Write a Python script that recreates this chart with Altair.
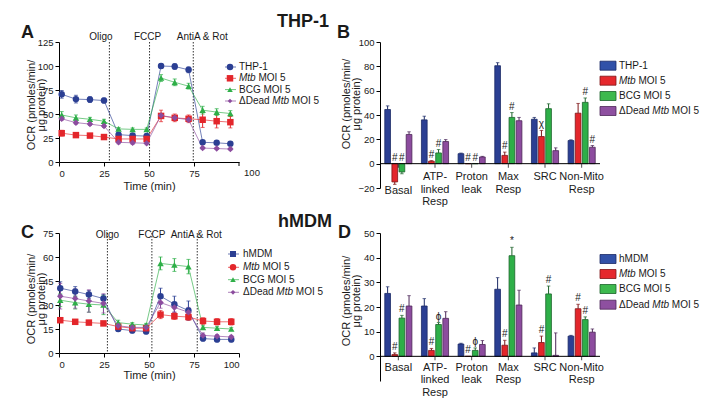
import altair as alt
import pandas as pd

# ---------------- data ----------------
series_thp = ["THP-1", "Mtb MOI 5", "BCG MOI 5", "ΔDead Mtb MOI 5"]
series_hmdm = ["hMDM", "Mtb MOI 5", "BCG MOI 5", "ΔDead Mtb MOI 5"]
inj_labels = ["Oligo", "FCCP", "AntiA & Rot"]

# Panel A (THP-1 kinetics)
time_A = [1.5, 9.4, 17.2, 25.0, 33.1, 40.9, 48.7, 56.7, 64.3, 72.0, 79.8, 87.6, 95.2]
ocr_A_thp1 = [70.5, 65.5, 65.0, 64.0, 28.5, 27.5, 27.0, 100.0, 99.5, 96.0, 20.5, 20.0, 19.0]
err_A_thp1 = [4.0, 4.0, 3.0, 2.5, 2.5, 2.0, 2.0, 2.5, 3.0, 3.0, 1.5, 1.5, 1.5]
ocr_A_mtb = [30.0, 28.0, 27.5, 26.0, 24.0, 24.0, 24.0, 48.0, 46.0, 45.0, 44.0, 42.5, 41.5]
err_A_mtb = [3.0, 1.5, 1.5, 1.5, 3.0, 3.0, 3.0, 6.0, 4.0, 4.0, 8.0, 7.0, 6.0]
ocr_A_bcg = [49.0, 46.0, 44.5, 42.5, 34.5, 34.0, 34.0, 87.5, 83.0, 79.0, 54.0, 52.0, 50.5]
err_A_bcg = [3.5, 3.0, 2.0, 2.0, 1.5, 1.5, 1.5, 3.5, 3.5, 3.0, 4.0, 3.5, 3.0]
ocr_A_dead = [45.0, 41.0, 39.5, 37.5, 20.5, 20.0, 19.5, 48.5, 46.0, 44.0, 14.5, 14.0, 13.5]
err_A_dead = [1.5, 1.5, 1.5, 1.5, 1.5, 1.5, 1.5, 2.0, 2.0, 2.0, 1.0, 1.0, 1.0]
inj_A = [28.0, 50.3, 74.6]

# Panel C (hMDM kinetics)
time_C = [0.7, 9.0, 16.6, 24.7, 32.9, 40.7, 48.4, 56.4, 64.1, 71.9, 80.0, 87.8, 95.7]
ocr_C_hmdm = [40.5, 38.5, 36.5, 34.0, 15.0, 14.0, 13.5, 35.5, 30.5, 26.5, 9.0, 8.5, 8.5]
err_C_hmdm = [4.0, 3.0, 2.5, 2.5, 1.5, 1.5, 1.5, 5.0, 5.0, 6.0, 1.5, 1.5, 1.5]
ocr_C_mtb = [20.5, 19.5, 19.0, 18.5, 16.5, 15.5, 15.5, 24.0, 23.0, 22.5, 20.0, 19.5, 19.5]
err_C_mtb = [1.5, 1.0, 1.0, 1.0, 1.0, 1.0, 1.0, 2.5, 2.0, 2.0, 2.0, 2.0, 2.0]
ocr_C_bcg = [33.0, 31.5, 30.5, 30.0, 19.0, 18.0, 17.5, 56.0, 55.0, 54.0, 16.0, 15.5, 15.0]
err_C_bcg = [4.0, 4.0, 5.0, 6.0, 1.5, 1.0, 1.0, 4.0, 4.0, 4.5, 1.0, 1.0, 1.0]
ocr_C_dead = [35.5, 34.0, 32.5, 31.0, 17.0, 16.0, 16.0, 31.5, 28.5, 25.5, 11.0, 10.5, 10.0]
err_C_dead = [8.0, 6.0, 7.0, 6.0, 1.5, 1.5, 1.5, 3.5, 3.0, 3.0, 1.5, 1.0, 1.0]
inj_C = [26.9, 51.6, 76.8]

# Bar panels
cats = ["Basal", "ATP-linked Resp", "Proton leak", "Max Resp", "SRC", "Non-Mito Resp"]
cat_text = ["Basal", "ATP-\nlinked\nResp", "Proton\nleak", "Max\nResp", "SRC", "Non-Mito\nResp"]

bar_B_thp1 = [44.5, 36.0, 8.2, 80.5, 36.5, 19.0]
berr_B_thp1 = [3.0, 3.0, 0.5, 2.5, 1.5, 0.6]
bar_B_mtb = [-15.0, 2.0, 0.0, 6.8, 22.3, 41.5]
berr_B_mtb = [2.0, 0.5, 0.0, 2.7, 5.0, 8.0]
bar_B_bcg = [-6.8, 8.8, 0.0, 38.0, 45.2, 50.4]
berr_B_bcg = [1.5, 2.8, 0.0, 4.0, 4.0, 3.6]
bar_B_dead = [24.0, 18.2, 5.5, 35.3, 10.7, 13.5]
berr_B_dead = [2.2, 1.6, 0.5, 2.7, 2.3, 1.4]
ann_B_thp1 = ["", "", "", "", "", ""]
ann_B_mtb = ["#", "#", "#", "#", "χ", ""]
ann_B_bcg = ["#", "#", "#", "#", "", "#"]
ann_B_dead = ["", "", "", "", "", "#"]

bar_D_hmdm = [25.5, 20.4, 5.0, 27.2, 1.4, 8.2]
berr_D_hmdm = [2.7, 3.0, 0.3, 4.7, 2.0, 0.3]
bar_D_mtb = [0.7, 2.4, 0.0, 4.5, 5.6, 19.3]
berr_D_mtb = [0.7, 0.8, 0.0, 2.0, 2.6, 1.8]
bar_D_bcg = [15.5, 12.9, 2.4, 40.8, 25.3, 14.9]
berr_D_bcg = [1.1, 0.8, 1.0, 3.4, 3.2, 1.1]
bar_D_dead = [20.4, 15.4, 4.8, 20.8, 0.4, 9.8]
berr_D_dead = [4.2, 2.7, 1.6, 6.0, 9.1, 1.3]
ann_D_hmdm = ["", "", "", "", "", ""]
ann_D_mtb = ["#", "#", "#", "#", "#", "#"]
ann_D_bcg = ["#", "ϕ", "ϕ", "*", "#", "#"]
ann_D_dead = ["", "", "", "", "", ""]

# ---------------- style ----------------
FONT = "Liberation Sans"
INK = "#1a1a1a"
line_colors = ["#2B3F93", "#E3262B", "#2EAF48", "#8C4C9E"]
bar_fills = ["#3151A8", "#E5282C", "#3DB94E", "#8E50A0"]
bar_strokes = ["#1B2A66", "#7E1517", "#1C632B", "#4C2758"]
shapes_A = ["circle", "square", "triangle-up", "diamond"]
sizes_A = [42, 42, 30, 20]
shapes_C = ["square", "circle", "triangle-up", "diamond"]
sizes_C = [36, 42, 30, 22]
KEYS = [0, 1, 2, 3]

ONE = pd.DataFrame({"k": [0]})

CW = {"T": .611, "H": .722, "P": .667, "-": .333, "1": .556, "M": .833, "t": .278,
      "b": .556, " ": .278, "O": .778, "I": .278, "5": .556, "B": .667, "C": .722,
      "G": .778, "Δ": .668, "D": .722, "e": .556, "a": .556, "d": .556, "h": .556}


def tw(s, size):
    return sum(CW.get(c, 0.556) for c in s) * size


def txt(s, x, y, size=10, italic=False, bold=False, align="left", baseline="middle",
        angle=None, lh=None):
    kw = dict(fontSize=size, align=align, baseline=baseline, color=INK, font=FONT)
    if italic:
        kw["fontStyle"] = "italic"
    if bold:
        kw["fontWeight"] = "bold"
    if angle is not None:
        kw["angle"] = angle
    if lh is not None:
        kw["lineBreak"] = "\n"
        kw["lineHeight"] = lh
    return alt.Chart(ONE).mark_text(**kw).encode(
        x=alt.value(x), y=alt.value(y), text=alt.value(s))


def rich_label(name, x, y, size=10):
    out = []
    cx = x
    for w in name.split(" "):
        out.append(txt(w, cx, y, size, italic=(w == "Mtb")))
        cx += tw(w, size) + tw(" ", size)
    return out


YTITLE = "OCR (pmoles/min/\nμg protein)"


def line_panel(letter, lpos, times, names, vals, errs, shapes, sizes, ymax, yticks,
               inj_t, inj_dx, inj_y, leg, ytitle_pos, xtitle_pad, shift_last=False,
               W=180, H=120):
    rows = []
    for key, vs, es in zip(KEYS, vals, errs):
        for t, v, e in zip(times, vs, es):
            rows.append({"key": key, "time": t, "ocr": v, "lo": v - e, "hi": v + e})
    df = pd.DataFrame(rows)
    xs = alt.Scale(domain=[0, 100], nice=False)
    ys = alt.Scale(domain=[0, ymax], nice=False)
    xvals = [0, 25, 50, 75] if shift_last else [0, 25, 50, 75, 100]
    xax = alt.Axis(values=xvals, title="Time (min)", titleFontSize=11,
                   titlePadding=xtitle_pad)
    yax = alt.Axis(values=yticks)

    def X(f):
        return alt.X(f"{f}:Q", scale=xs, axis=xax)

    def Y(f):
        return alt.Y(f"{f}:Q", scale=ys, axis=yax, title=None)

    C = alt.Color("key:N", scale=alt.Scale(domain=KEYS, range=line_colors), legend=None)
    base = alt.Chart(df)
    vlines = alt.Chart(pd.DataFrame({"time": inj_t})).mark_rule(
        strokeDash=[1.5, 1.5], strokeWidth=1, color="#333").encode(x=X("time"))
    line = base.mark_line(strokeWidth=1, opacity=0.65).encode(x=X("time"), y=Y("ocr"), color=C)
    err = base.mark_rule(strokeWidth=1).encode(x=X("time"), y=Y("lo"), y2="hi:Q", color=C)
    capl = base.mark_tick(orient="horizontal", size=4, thickness=1).encode(
        x=X("time"), y=Y("lo"), color=C)
    caph = base.mark_tick(orient="horizontal", size=4, thickness=1).encode(
        x=X("time"), y=Y("hi"), color=C)
    pts = base.mark_point(filled=True, opacity=1).encode(
        x=X("time"), y=Y("ocr"), color=C,
        shape=alt.Shape("key:N", scale=alt.Scale(domain=KEYS, range=shapes), legend=None),
        size=alt.Size("key:N", scale=alt.Scale(domain=KEYS, range=sizes), legend=None))
    labels = []
    for lab, t, dx in zip(inj_labels, inj_t, inj_dx):
        labels.append(alt.Chart(pd.DataFrame({"time": [t]})).mark_text(
            dx=dx, fontSize=10, align="center", baseline="alphabetic", color=INK, font=FONT
        ).encode(x=X("time"), y=alt.value(inj_y), text=alt.value(lab)))
    if shift_last:
        end_df = pd.DataFrame({"time": [100]})
        labels.append(alt.Chart(end_df).mark_rule(strokeWidth=1, color="#000").encode(
            x=X("time"), y=alt.value(H), y2=alt.value(H + 4)))
        labels.append(txt("100", W + 13, H + 6, size=9.5, align="center", baseline="top"))
    legend = []
    lx_sym, lx1, lx2, lx_txt, lrows = leg
    for i, n in enumerate(names):
        yy = lrows[i]
        legend.append(alt.Chart(ONE).mark_rule(strokeWidth=1, color=line_colors[i], opacity=0.7).encode(
            x=alt.value(lx1), x2=alt.value(lx2), y=alt.value(yy)))
        legend.append(alt.Chart(ONE).mark_point(filled=True, opacity=1, shape=shapes[i],
                                                size=sizes[i], color=line_colors[i]).encode(
            x=alt.value(lx_sym), y=alt.value(yy)))
        legend.extend(rich_label(n, lx_txt, yy))
    extras = [txt(letter, lpos[0], lpos[1], size=18, bold=True, baseline="alphabetic"),
              txt(YTITLE, ytitle_pos[0], ytitle_pos[1], size=11, angle=270, align="center",
                  lh=10)]
    return alt.layer(vlines, line, err, capl, caph, pts, *labels, *legend, *extras).properties(
        width=W, height=H)


def bar_panel(letter, lpos, title, tpos, names, vals, errs, anns, ydom, yticks, H,
              label_dy, leg_rows, ytitle_pos, W=220):
    rows = []
    for key, vs, es, an in zip(KEYS, vals, errs, anns):
        for c, v, e, a in zip(cats, vs, es, an):
            end = v - e if v < 0 else v + e
            rows.append(dict(cat=c, key=key, value=v, end=end, err=e,
                             top=max(v, end, 0), ann=a))
    df = pd.DataFrame(rows)
    X = alt.X("cat:N", scale=alt.Scale(domain=cats, paddingInner=0.26, paddingOuter=0.13),
              axis=None, title=None)
    XO = alt.XOffset("key:N", scale=alt.Scale(domain=KEYS, paddingInner=0.2))
    ys = alt.Scale(domain=ydom, nice=False)
    yax = alt.Axis(values=yticks, labelOverlap=False)

    def Y(f):
        return alt.Y(f"{f}:Q", scale=ys, axis=yax, title=None)

    F = alt.Color("key:N", scale=alt.Scale(domain=KEYS, range=bar_fills), legend=None)
    S = alt.Stroke("key:N", scale=alt.Scale(domain=KEYS, range=bar_strokes), legend=None)
    FD = alt.Fill("key:N", scale=alt.Scale(domain=KEYS, range=bar_strokes), legend=None)
    base = alt.Chart(df)
    bars = base.mark_bar(strokeWidth=0.8).encode(
        x=X, xOffset=XO, y=Y("value"), y2=alt.datum(0), color=F, stroke=S)
    ebase = base.transform_filter("datum.err > 0")
    err = ebase.mark_rule(strokeWidth=1).encode(x=X, xOffset=XO, y=Y("value"), y2="end:Q", stroke=S)
    cap = ebase.mark_tick(orient="horizontal", size=3.5, thickness=1).encode(
        x=X, xOffset=XO, y=Y("end"), fill=FD)
    ann = base.transform_filter("datum.ann != ''").mark_text(
        baseline="bottom", dy=-1, fontSize=10, color=INK, font=FONT).encode(
        x=X, xOffset=XO, y=Y("top"), text="ann:N")
    zero = alt.Chart(ONE).mark_rule(color="black", strokeWidth=1).encode(y=Y("v0"))
    zero = zero.transform_calculate(v0="0")
    cticks = alt.Chart(pd.DataFrame({"cat": cats, "v0": [0] * len(cats)})).mark_tick(
        orient="vertical", size=4, thickness=1, yOffset=2, color="black").encode(
        x=X, y=Y("v0"))
    zero_px = H * ydom[1] / (ydom[1] - ydom[0])
    labels = []
    for c, lab in zip(cats, cat_text):
        labels.append(alt.Chart(pd.DataFrame({"cat": [c]})).mark_text(
            fontSize=11, lineBreak="\n", lineHeight=12.5, align="center",
            baseline="alphabetic", color=INK, font=FONT).encode(
            x=X, y=alt.value(zero_px + label_dy.get(c, label_dy["_"])), text=alt.value(lab)))
    legend = []
    for i, n in enumerate(names):
        yy = leg_rows[i]
        legend.append(alt.Chart(ONE).mark_rect(fill=bar_fills[i], stroke=bar_strokes[i],
                                               strokeWidth=0.8).encode(
            x=alt.value(W), x2=alt.value(W + 16), y=alt.value(yy - 4.5), y2=alt.value(yy + 4.5)))
        legend.extend(rich_label(n, W + 19, yy))
    extras = [txt(letter, lpos[0], lpos[1], size=18, bold=True, baseline="alphabetic"),
              txt(title, tpos[0], tpos[1], size=18, bold=True, align="center",
                  baseline="alphabetic"),
              txt(YTITLE, ytitle_pos[0], ytitle_pos[1], size=11, angle=270, align="center",
                  lh=10)]
    return alt.layer(bars, err, cap, zero, cticks, ann, *labels, *legend, *extras).properties(
        width=W, height=H)


pA = line_panel("A", (-38, -4), time_A, series_thp,
                [ocr_A_thp1, ocr_A_mtb, ocr_A_bcg, ocr_A_dead],
                [err_A_thp1, err_A_mtb, err_A_bcg, err_A_dead],
                shapes_A, sizes_A, 125, [0, 25, 50, 75, 100, 125],
                inj_A, [-8.5, -2, 9], -2,
                (171, 166, 177, 180, [25, 36.3, 47.6, 59]), (-27, 63), 3, shift_last=True)
pC = line_panel("C", (-38, 5), time_C, series_hmdm,
                [ocr_C_hmdm, ocr_C_mtb, ocr_C_bcg, ocr_C_dead],
                [err_C_hmdm, err_C_mtb, err_C_bcg, err_C_dead],
                shapes_C, sizes_C, 75, [0, 15, 30, 45, 60, 75],
                inj_C, [0, 0, -1], 5,
                (174, 169, 180, 184, [21, 34.3, 46.7, 59.3]), (-27, 66), 1)
pB = bar_panel("B", (-43, -4), "THP-1", (-77, -15), series_thp,
               [bar_B_thp1, bar_B_mtb, bar_B_bcg, bar_B_dead],
               [berr_B_thp1, berr_B_mtb, berr_B_bcg, berr_B_dead],
               [ann_B_thp1, ann_B_mtb, ann_B_bcg, ann_B_dead],
               [-20, 100], [-20, 0, 20, 40, 60, 80, 100], 146,
               {"Basal": 30.5, "_": 16.5}, [23.7, 38.7, 54, 69], (-33, 62))
pD = bar_panel("D", (-42, 5), "hMDM", (-75, -6), series_hmdm,
               [bar_D_hmdm, bar_D_mtb, bar_D_bcg, bar_D_dead],
               [berr_D_hmdm, berr_D_mtb, berr_D_bcg, berr_D_dead],
               [ann_D_hmdm, ann_D_mtb, ann_D_bcg, ann_D_dead],
               [-10, 50], [0, 10, 20, 30, 40, 50], 148,
               {"_": 14.5}, [26, 41, 56, 71.7], (-33, 68))

chart = alt.concat(pA, pB, pC, pD, columns=2, spacing={"row": 45, "column": 141},
                   bounds="flush").properties(
    padding={"left": 13, "top": 5, "right": 2, "bottom": 0}
).configure(font=FONT).configure_view(stroke=None).configure_axis(
    domainColor="#000", tickColor="#000", labelColor=INK, titleColor=INK,
    labelFontSize=9.5, tickSize=4, labelPadding=2, grid=False, domainWidth=1,
    tickWidth=1, titleFontWeight="normal", labelFont=FONT, titleFont=FONT,
    labelOverlap=False)

chart.save("out.html", embed_options={"renderer": "svg", "actions": False})
